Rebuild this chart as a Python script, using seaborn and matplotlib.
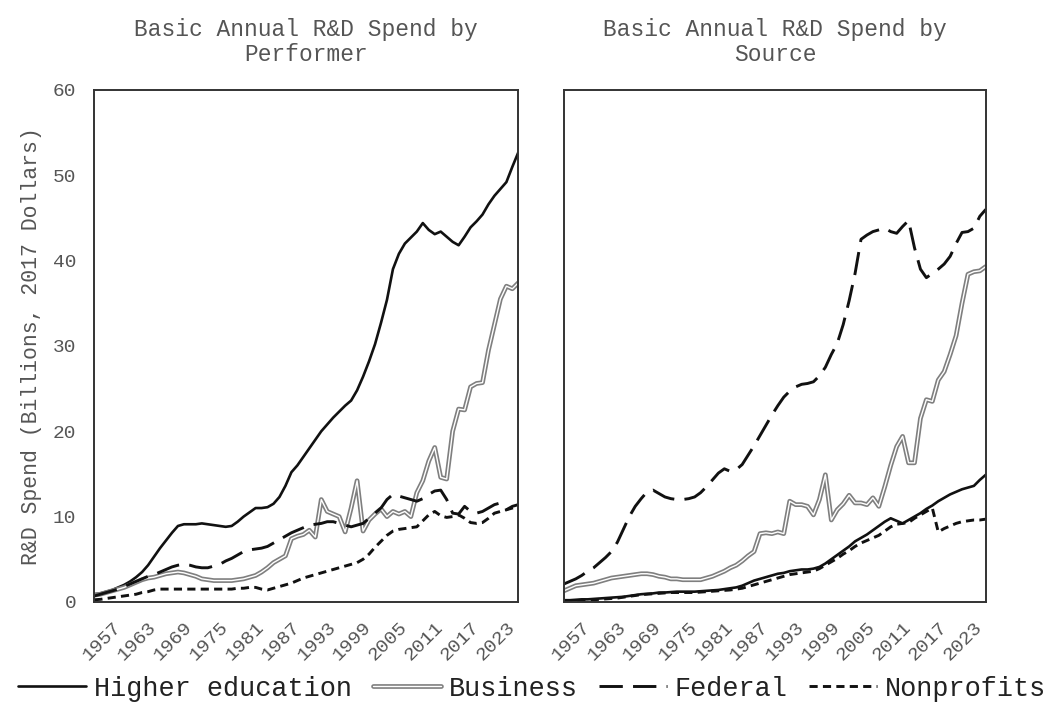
import pandas as pd
import matplotlib
matplotlib.use("Agg")
import matplotlib.pyplot as plt
import matplotlib.patheffects as pe
import seaborn as sns

# Anos (1953-2024)
years = list(range(1953, 2025))

# --- Painel 1: por executor (performer) ---
perf_higher_ed = [
    0.9, 1.0, 1.2, 1.4, 1.7, 2.0, 2.4, 2.9, 3.5, 4.3,
    5.3, 6.3, 7.2, 8.1, 8.9, 9.1, 9.1, 9.1, 9.2, 9.1,
    9.0, 8.9, 8.8, 8.9, 9.4, 10.0, 10.5, 11.0, 11.0, 11.1,
    11.5, 12.3, 13.6, 15.2, 16.0, 17.0, 18.0, 19.0, 20.0, 20.8,
    21.6, 22.3, 23.0, 23.6, 24.8, 26.4, 28.2, 30.2, 32.7, 35.4,
    39.0, 40.8, 42.0, 42.7, 43.4, 44.4, 43.6, 43.1, 43.4, 42.8,
    42.2, 41.8, 42.8, 43.9, 44.6, 45.4, 46.6, 47.6, 48.4, 49.2,
    51.0, 52.7]
perf_business = [
    0.8, 0.9, 1.1, 1.3, 1.5, 1.7, 2.0, 2.3, 2.6, 2.8,
    2.9, 3.1, 3.3, 3.4, 3.5, 3.4, 3.2, 3.0, 2.7, 2.6,
    2.5, 2.5, 2.5, 2.5, 2.6, 2.7, 2.9, 3.1, 3.5, 4.0,
    4.6, 5.0, 5.4, 7.4, 7.7, 7.9, 8.4, 7.6, 12.0, 10.6,
    10.3, 10.0, 8.2, 11.0, 14.2, 8.3, 9.6, 10.3, 10.9, 10.0,
    10.6, 10.3, 10.6, 10.0, 12.8, 14.2, 16.5, 18.1, 14.6, 14.4,
    20.0, 22.6, 22.5, 25.2, 25.6, 25.7, 29.5, 32.5, 35.5, 37.0,
    36.7, 37.4]
perf_federal = [
    0.7, 0.9, 1.1, 1.3, 1.5, 1.8, 2.1, 2.4, 2.7, 3.0,
    3.2, 3.5, 3.8, 4.1, 4.3, 4.4, 4.3, 4.1, 4.0, 4.0,
    4.2, 4.4, 4.8, 5.1, 5.5, 5.9, 6.1, 6.2, 6.3, 6.5,
    6.9, 7.3, 7.7, 8.1, 8.4, 8.7, 9.0, 9.1, 9.2, 9.4,
    9.4, 9.2, 9.0, 8.8, 9.0, 9.2, 9.8, 10.4, 11.0, 12.0,
    12.6, 12.4, 12.2, 12.0, 11.8, 12.1, 12.6, 13.0, 13.1, 12.0,
    10.4, 10.3, 11.2, 10.6, 10.4, 10.6, 11.0, 11.4, 11.6, 10.8,
    11.2, 11.4]
perf_nonprofits = [
    0.25, 0.3, 0.4, 0.5, 0.6, 0.7, 0.8, 0.9, 1.1, 1.2,
    1.4, 1.5, 1.5, 1.5, 1.5, 1.5, 1.5, 1.5, 1.5, 1.5,
    1.5, 1.5, 1.5, 1.5, 1.6, 1.6, 1.7, 1.7, 1.5, 1.4,
    1.6, 1.8, 2.0, 2.2, 2.5, 2.8, 3.0, 3.2, 3.4, 3.6,
    3.8, 4.0, 4.2, 4.4, 4.6, 5.0, 5.6, 6.4, 7.1, 7.8,
    8.3, 8.5, 8.6, 8.7, 8.8, 9.5, 10.2, 10.6, 10.1, 9.9,
    10.0, 10.2, 9.8, 9.3, 9.2, 9.3, 9.8, 10.4, 10.6, 10.8,
    11.0, 11.3]

# --- Painel 2: por fonte (source) ---
src_higher_ed = [
    0.2, 0.2, 0.25, 0.3, 0.3, 0.35, 0.4, 0.45, 0.5, 0.55,
    0.6, 0.7, 0.8, 0.9, 0.95, 1.0, 1.1, 1.1, 1.15, 1.2,
    1.2, 1.2, 1.2, 1.25, 1.3, 1.35, 1.4, 1.5, 1.6, 1.7,
    1.9, 2.2, 2.5, 2.7, 2.9, 3.1, 3.3, 3.4, 3.6, 3.7,
    3.8, 3.8, 3.9, 4.1, 4.5, 5.0, 5.5, 6.0, 6.5, 7.1,
    7.5, 7.9, 8.4, 8.9, 9.4, 9.8, 9.5, 9.2, 9.6, 10.0,
    10.4, 10.9, 11.3, 11.8, 12.2, 12.6, 12.9, 13.2, 13.4, 13.6,
    14.3, 14.9]
src_business = [
    1.3, 1.6, 1.9, 2.0, 2.1, 2.2, 2.4, 2.6, 2.8, 2.9,
    3.0, 3.1, 3.2, 3.3, 3.3, 3.2, 3.0, 2.9, 2.7, 2.7,
    2.6, 2.6, 2.6, 2.6, 2.8, 3.0, 3.3, 3.6, 4.0, 4.3,
    4.8, 5.4, 5.9, 8.0, 8.1, 8.0, 8.2, 8.0, 11.8, 11.4,
    11.4, 11.2, 10.2, 12.0, 14.9, 9.6, 10.8, 11.5, 12.5, 11.6,
    11.6, 11.4, 12.2, 11.2, 13.5, 16.0, 18.2, 19.4, 16.3, 16.3,
    21.5, 23.7, 23.5, 26.0, 27.0, 29.0, 31.2, 35.0, 38.4, 38.7,
    38.8, 39.3]
src_federal = [
    2.1, 2.4, 2.7, 3.1, 3.6, 4.0, 4.6, 5.2, 5.9, 7.0,
    8.5, 10.0, 11.2, 12.1, 12.9, 13.1, 12.7, 12.3, 12.1, 12.0,
    12.0, 12.1, 12.3, 12.8, 13.5, 14.3, 15.1, 15.6, 15.3, 15.5,
    16.1, 17.2, 18.3, 19.5, 20.7, 21.9, 23.0, 24.0, 24.7, 25.2,
    25.5, 25.6, 25.8, 26.5, 27.5, 29.0, 30.3, 32.5, 35.3, 38.5,
    42.5, 43.0, 43.4, 43.6, 43.8, 43.4, 43.2, 44.0, 44.7, 41.5,
    39.0, 38.0, 38.5, 39.0, 39.6, 40.5, 42.0, 43.3, 43.4, 43.8,
    45.2, 46.0]
src_nonprofits = [
    0.1, 0.1, 0.15, 0.2, 0.2, 0.25, 0.3, 0.35, 0.4, 0.45,
    0.55, 0.65, 0.75, 0.85, 0.9, 0.95, 1.0, 1.05, 1.1, 1.1,
    1.1, 1.1, 1.1, 1.15, 1.2, 1.25, 1.3, 1.35, 1.4, 1.5,
    1.6, 1.8, 2.0, 2.2, 2.4, 2.6, 2.8, 3.0, 3.2, 3.3,
    3.4, 3.5, 3.6, 3.9, 4.3, 4.7, 5.1, 5.6, 6.0, 6.5,
    6.9, 7.2, 7.5, 7.8, 8.3, 8.8, 9.1, 9.2, 9.3, 9.8,
    10.2, 10.6, 11.0, 8.2, 8.6, 8.9, 9.2, 9.4, 9.5, 9.6,
    9.6, 9.7]

categorias = ["Higher education", "Business", "Federal", "Nonprofits"]
titulos = ["Basic Annual R&D Spend by\nPerformer", "Basic Annual R&D Spend by\nSource"]
xticks = list(range(1957, 2024, 6))

paineis = [
    dict(zip(categorias, [perf_higher_ed, perf_business, perf_federal, perf_nonprofits])),
    dict(zip(categorias, [src_higher_ed, src_business, src_federal, src_nonprofits])),
]

# Estilo de cada série
estilos = {
    "Higher education": dict(color="#111111", linewidth=1.9, linestyle="-"),
    "Business": dict(color="white", linewidth=1.0, linestyle="-",
                     path_effects=[pe.Stroke(linewidth=3.4, foreground="#7f7f7f"), pe.Normal()]),
    "Federal": dict(color="#111111", linewidth=2.1, linestyle=(0, (8, 3.5))),
    "Nonprofits": dict(color="#111111", linewidth=2.1, linestyle=(0, (2.8, 1.8))),
}

sns.set_theme(style="white")
plt.rcParams["font.family"] = ["Liberation Mono", "DejaVu Sans Mono"]
cinza = "#555555"

fig = plt.figure(figsize=(10.6, 7.14), dpi=100)
ax1 = fig.add_axes([0.089, 0.157, 0.400, 0.717])
ax2 = fig.add_axes([0.532, 0.157, 0.398, 0.717], sharey=ax1)

for ax, dados, titulo in zip([ax1, ax2], paineis, titulos):
    for cat in categorias:
        df = pd.DataFrame({"Ano": years, "Valor": dados[cat]})
        sns.lineplot(data=df, x="Ano", y="Valor", ax=ax, label=cat,
                     estimator=None, **estilos[cat])
    ax.set_xlim(1953, 2024)
    ax.set_ylim(0, 60)
    ax.set_xticks(xticks)
    ax.set_xticklabels([str(a) for a in xticks], rotation=45, ha="right",
                       va="center", rotation_mode="anchor")
    ax.tick_params(axis="both", length=0, labelsize=14, labelcolor=cinza)
    ax.tick_params(axis="x", pad=16.5)
    ax.tick_params(axis="y", pad=13)
    ax.set_title(titulo, fontsize=16.5, color=cinza, pad=21, linespacing=1.1)
    ax.set_xlabel("")
    for s in ax.spines.values():
        s.set_visible(True)
        s.set_color("#333333")
        s.set_linewidth(1.4)
    if ax.get_legend() is not None:
        ax.get_legend().remove()

ax1.set_ylabel("R&D Spend (Billions, 2017 Dollars)", fontsize=15.5, color=cinza, labelpad=8)
ax1.set_yticks(range(0, 61, 10))
ax2.set_ylabel("")
ax2.tick_params(axis="y", labelleft=False)

handles, labels = ax1.get_legend_handles_labels()
fig.legend(handles, labels, loc="lower center", bbox_to_anchor=(0.502, -0.017), ncol=4,
           frameon=False, fontsize=19.4, handlelength=2.5, handletextpad=0.3,
           columnspacing=0.8, labelcolor="#222222")

plt.savefig("out.png", dpi=100, facecolor="white")
plt.close()
